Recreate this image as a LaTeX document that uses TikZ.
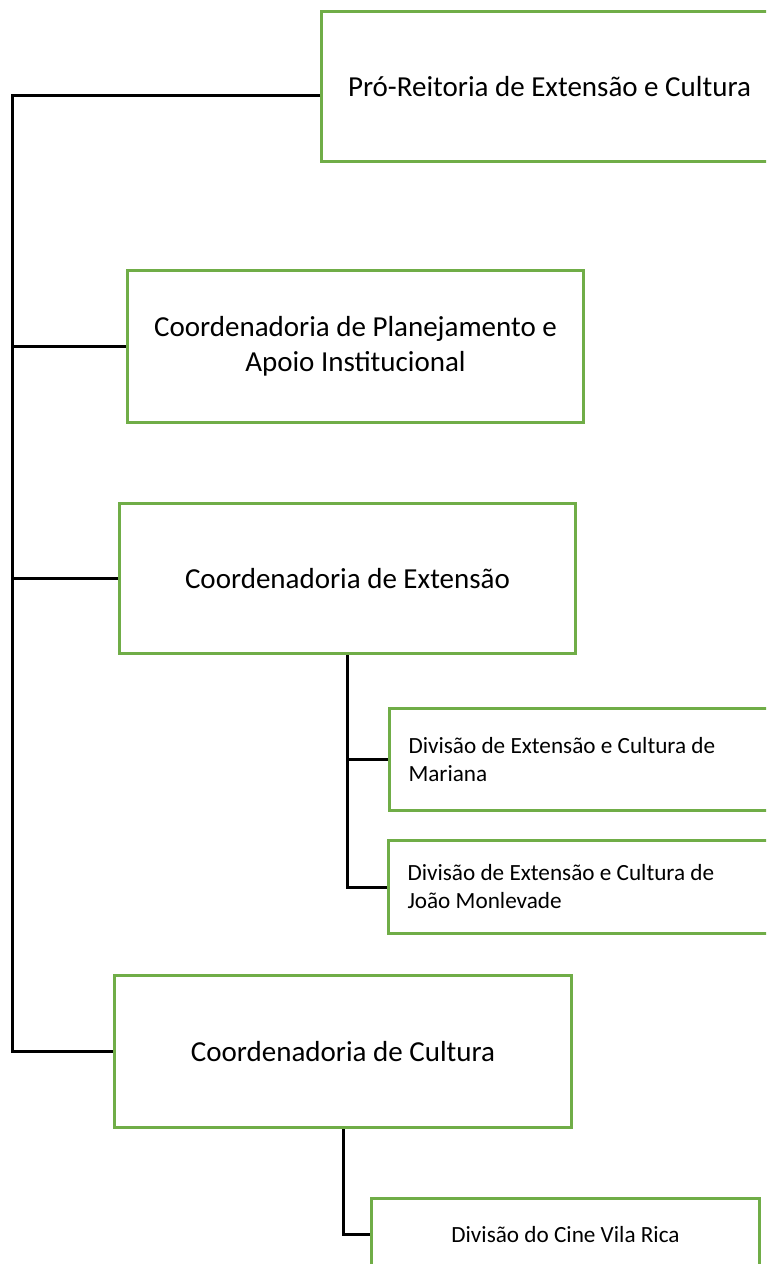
\documentclass[tikz,border=0pt]{standalone}
\usepackage{fontspec}
\setmainfont{Carlito}
\usepackage{tikz}
\usetikzlibrary{positioning}
\definecolor{boxgreen}{HTML}{70AD47}
\tikzstyle{unit} = [rectangle, anchor=north west, draw=boxgreen, line width=1.5pt, align=center, font=\fontsize{14.5}{17.5}\selectfont, inner sep=0pt]
\tikzstyle{division} = [rectangle, anchor=north west, draw=boxgreen, line width=1.5pt, align=flush left, font=\fontsize{11.6}{14}\selectfont, inner xsep=9.5pt, inner ysep=0pt]
\tikzstyle{line} = [black, line width=1.5pt]

\begin{document}
\begin{tikzpicture}[x=0.5pt, y=-0.5pt]
  \path [use as bounding box, clip] (0,0) rectangle (766,1264);
  \node (pro) [unit, minimum width=228pt, minimum height=75pt] at (320,10) {Pró-Reitoria de Extensão e Cultura};
  \node (plan) [unit, minimum width=228pt, minimum height=76pt] at (126,269) {Coordenadoria de Planejamento e\\Apoio Institucional};
  \node (ext) [unit, minimum width=228pt, minimum height=75pt] at (118,502) {Coordenadoria de Extensão};
  \node (mar) [division, text width=181pt, minimum height=51pt] at (388,707) {Divisão de Extensão e Cultura de\\Mariana};
  \node (mon) [division, text width=181pt, minimum height=46.5pt] at (387,839) {Divisão de Extensão e Cultura de\\João Monlevade};
  \node (cult) [unit, minimum width=228.5pt, minimum height=76pt] at (113,974) {Coordenadoria de Cultura};
  \node (cine) [division, align=center, minimum width=194pt, minimum height=36pt] at (370,1197) {Divisão do Cine Vila Rica};

  \coordinate (spine) at (12,95);
  \draw [line] (pro.west |- spine) -- (spine) |- (cult.west);
  \draw [line] (spine |- plan.west) -- (plan.west);
  \draw [line] (spine |- ext.west) -- (ext.west);
  \draw [line] (ext.south) |- (mar.west);
  \draw [line] (ext.south) |- (mon.west);
  \draw [line] (cult.south) |- (cine.west);
\end{tikzpicture}
\end{document}
